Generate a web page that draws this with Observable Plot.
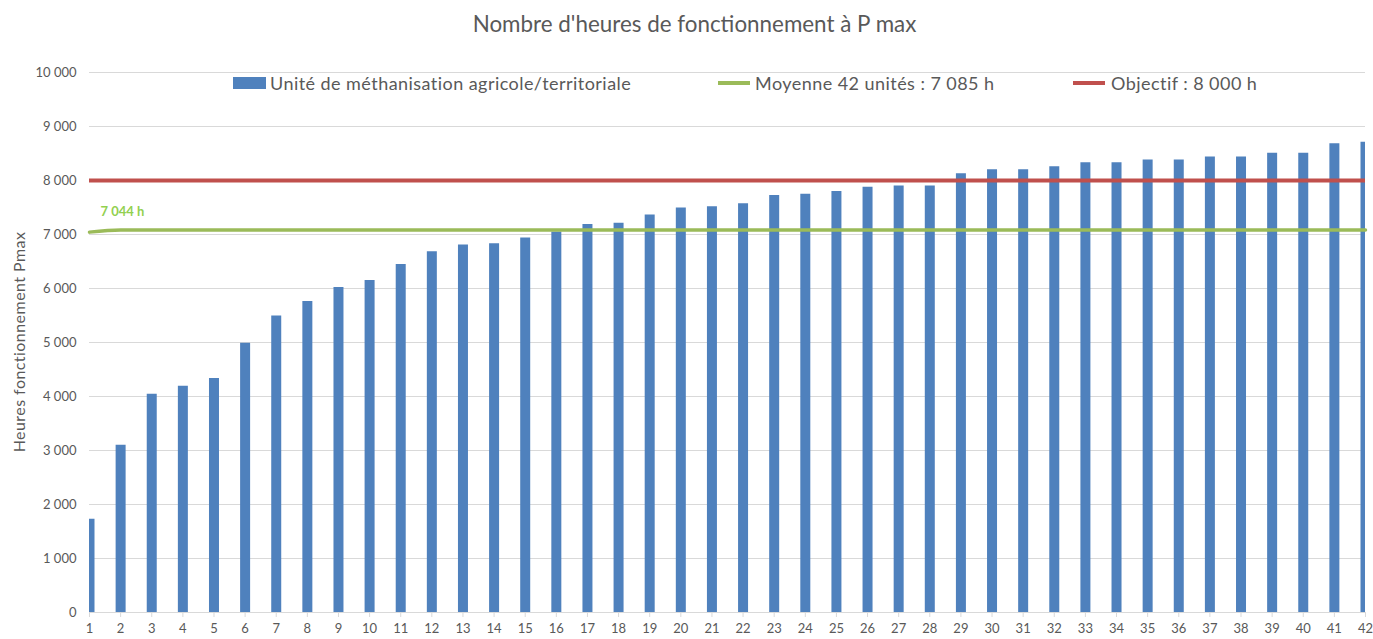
<!DOCTYPE html>
<html>
<head>
<meta charset="utf-8">
<script src="https://cdn.jsdelivr.net/npm/d3@7"></script>
<script src="https://cdn.jsdelivr.net/npm/@observablehq/plot@0.6"></script>
<style>
  body { margin: 0; background: #fff; font-family: Lato, sans-serif; }
  #wrap { position: relative; width: 1373px; height: 639px; overflow: hidden; background: #fff; }
  #wrap svg { position: absolute; left: 0; top: 0; }
  .title { position: absolute; left: 8px; width: 1373px; top: 11px; text-align: center; font-size: 22.4px; line-height: 26px; color: #595959; }
  .legtext { position: absolute; top: 73px; font-size: 18px; line-height: 20px; letter-spacing: 0.45px; color: #595959; white-space: nowrap; }
  .sw { position: absolute; }
  .ytitle { position: absolute; left: 18px; top: 342px; transform: translate(-50%, -50%) rotate(-90deg); font-size: 16px; letter-spacing: 0.45px; color: #595959; white-space: nowrap; }
</style>
</head>
<body>
<div id="wrap">
  <div class="title">Nombre d'heures de fonctionnement à P max</div>
  <div class="ytitle">Heures fonctionnement Pmax</div>
</div>
<script>
// Data
const units = [1,2,3,4,5,6,7,8,9,10,11,12,13,14,15,16,17,18,19,20,21,22,23,24,25,26,27,28,29,30,31,32,33,34,35,36,37,38,39,40,41,42];
const heures = [1727,3096,4040,4190,4335,4985,5490,5760,6020,6150,6445,6680,6805,6830,6935,7045,7185,7210,7360,7490,7515,7570,7720,7745,7795,7875,7900,7900,8125,8200,8200,8255,8330,8330,8380,8380,8435,8435,8505,8505,8680,8710];
const moyenneUnits = [1, 2, 42];
const moyenneValues = [7044, 7085, 7085];
const objectif = 8000;
const yTicks = [0,1000,2000,3000,4000,5000,6000,7000,8000,9000,10000];
const seriesNames = ["Unité de méthanisation agricole/territoriale", "Moyenne 42 unités : 7 085 h", "Objectif : 8 000 h"];
const seriesColors = ["#4f81bd", "#9bbb59", "#c0504d"];
const moyLabel = "7 044 h";

const bars = units.map((u, i) => ({unit: u, h: heures[i]}));
const moy = moyenneUnits.map((u, i) => ({unit: u, h: moyenneValues[i]}));
const fr = d3.formatLocale({decimal: ",", thousands: "\u00a0", grouping: [3], currency: ["", " €"]});
const fmt = fr.format(",d");

const chart = Plot.plot({
  width: 1373,
  height: 639,
  marginTop: 72,
  marginBottom: 27,
  marginLeft: 89,
  marginRight: 8,
  x: {type: "linear", domain: [1, 42], axis: null},
  y: {domain: [0, 10000], axis: null},
  style: {fontFamily: "Lato, sans-serif", color: "#595959", background: "white"},
  marks: [
    Plot.gridY(yTicks, {stroke: "#d9d9d9", strokeOpacity: 1, strokeWidth: 1}),
    Plot.axisY({ticks: yTicks, tickSize: 0, tickPadding: 13, tickFormat: fmt, fontSize: 13, fill: "#595959", label: null}),
    Plot.axisX({ticks: units, tickSize: 5, tickPadding: 6, tickFormat: d => String(d), fontSize: 13, stroke: "#d9d9d9", fill: "#595959", label: null}),
    Plot.ruleX(bars, {x: "unit", y1: 0, y2: "h", stroke: seriesColors[0], strokeWidth: 10, clip: true}),
    Plot.line(moy, {x: "unit", y: "h", stroke: seriesColors[1], strokeWidth: 3.5, curve: "monotone-x"}),
    Plot.ruleY([objectif], {stroke: seriesColors[2], strokeWidth: 4}),
    Plot.text([moy[0]], {x: "unit", y: "h", text: () => moyLabel, dx: 11, dy: -20, textAnchor: "start", fill: "#92d050", fontWeight: "bold", fontSize: 13})
  ]
});

const wrap = document.getElementById("wrap");
wrap.insertBefore(chart, wrap.firstChild);

// Legend
const legItems = [
  {sw: {left: 233, top: 77, width: 33, height: 12}, text: 270},
  {sw: {left: 718, top: 81, width: 32, height: 4}, text: 755},
  {sw: {left: 1073, top: 81, width: 32, height: 4}, text: 1111}
];
legItems.forEach((it, i) => {
  const s = document.createElement("div");
  s.className = "sw";
  Object.assign(s.style, {left: it.sw.left + "px", top: it.sw.top + "px", width: it.sw.width + "px", height: it.sw.height + "px", background: seriesColors[i]});
  wrap.appendChild(s);
  const t = document.createElement("div");
  t.className = "legtext";
  t.style.left = it.text + "px";
  t.textContent = seriesNames[i];
  wrap.appendChild(t);
});
</script>
</body>
</html>
